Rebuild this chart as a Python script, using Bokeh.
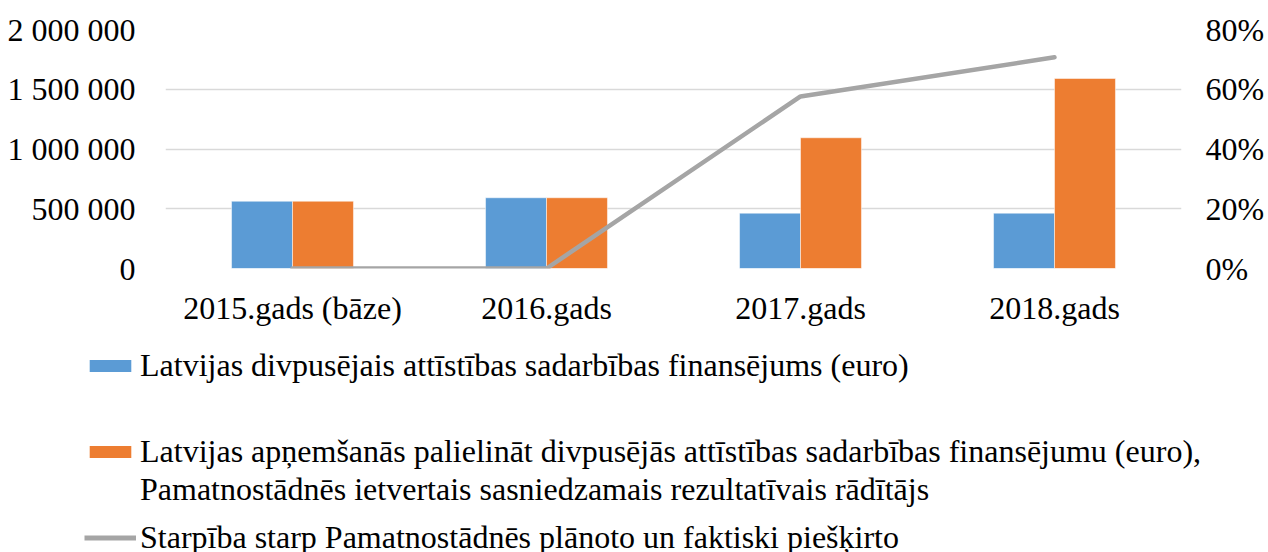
from bokeh.plotting import figure
from bokeh.models import (FactorRange, Range1d, LinearAxis, FixedTicker, Legend, LegendItem,
                          ColumnDataSource)
from bokeh.layouts import column
from bokeh.transform import dodge
from bokeh.embed import file_html
from bokeh.resources import INLINE

categories = ["2015.gads (bāze)", "2016.gads", "2017.gads", "2018.gads"]
actual_funding = [563000, 592000, 463000, 463000]
committed_funding = [563000, 592000, 1094000, 1590000]
gap_share = [0.0, 0.0, 0.576, 0.707]

left_ticks = [0, 500000, 1000000, 1500000, 2000000]
left_tick_labels = ["0", "500 000", "1 000 000", "1 500 000", "2 000 000"]
right_ticks = [0, 0.2, 0.4, 0.6, 0.8]
right_tick_labels = ["0%", "20%", "40%", "60%", "80%"]

label_blue = "Latvijas divpusējais attīstības sadarbības finansējums (euro)"
label_orange_1 = "Latvijas apņemšanās palielināt divpusējās attīstības sadarbības finansējumu (euro),"
label_orange_2 = "Pamatnostādnēs ietvertais sasniedzamais rezultatīvais rādītājs"
label_gray = "Starpība starp Pamatnostādnēs plānoto un faktiski piešķirto"

FONT = "Liberation Serif"
FS = "32px"
BLUE = "#5B9BD5"
ORANGE = "#ED7D31"
GRAY = "#A5A5A5"
W = 1268

src = ColumnDataSource(dict(cat=categories, a=actual_funding, c=committed_funding, g=gap_share))

p = figure(x_range=FactorRange(*categories, range_padding=0), y_range=Range1d(0, 2000000),
           width=W, height=330, output_backend="svg", toolbar_location=None,
           min_border_left=165, min_border_right=87, min_border_top=29, min_border_bottom=62)
p.extra_y_ranges = {"pct": Range1d(0, 0.8)}
p.outline_line_color = None

r1 = p.vbar(x=dodge("cat", -0.12, range=p.x_range), top="a", width=0.24, source=src,
            fill_color=BLUE, line_color="white", line_width=0.5)
r2 = p.vbar(x=dodge("cat", 0.12, range=p.x_range), top="c", width=0.24, source=src,
            fill_color=ORANGE, line_color="white", line_width=0.5)
r3 = p.line(x="cat", y="g", source=src, y_range_name="pct",
            line_color=GRAY, line_width=4.5, line_join="round", line_cap="round")

p.xgrid.grid_line_color = None
p.ygrid.grid_line_color = "#D9D9D9"
p.ygrid.grid_line_width = 1.5
p.yaxis.ticker = FixedTicker(ticks=left_ticks)
p.yaxis.major_label_overrides = dict(zip(left_ticks, left_tick_labels))

right = LinearAxis(y_range_name="pct", ticker=FixedTicker(ticks=right_ticks))
right.major_label_overrides = dict(zip(right_ticks, right_tick_labels))
p.add_layout(right, "right")

for ax in [p.xaxis[0], p.yaxis[0], right]:
    ax.axis_line_color = None
    ax.major_tick_line_color = None
    ax.minor_tick_line_color = None
    ax.major_tick_in = 0
    ax.major_tick_out = 0
    ax.major_label_text_font = FONT
    ax.major_label_text_font_size = FS
    ax.major_label_text_color = "black"
p.yaxis[0].major_label_standoff = 30
right.major_label_standoff = 24
p.xaxis[0].major_label_standoff = 21

# legend panel below the chart
q = figure(width=W, height=222, output_backend="svg", toolbar_location=None,
           x_range=Range1d(0, 1), y_range=Range1d(0, 1),
           x_axis_location=None, y_axis_location=None,
           min_border_left=0, min_border_right=0, min_border_top=0, min_border_bottom=0)
q.outline_line_color = None
q.grid.grid_line_color = None
try:
    q.frame_align = False
    p.frame_align = False
except Exception:
    pass
l1 = q.vbar(x=[-10], top=[-10], width=0.5, fill_color=BLUE, line_color=None)
l2 = q.vbar(x=[-10], top=[-10], width=0.5, fill_color=ORANGE, line_color=None)
l2b = q.vbar(x=[-10], top=[-10], width=0.5, fill_alpha=0, line_color=None)
l3 = q.line(x=[-10, -9], y=[-10, -10], line_color=GRAY, line_width=5)

def mk_legend(label, rend, vy):
    lg = Legend(items=[LegendItem(label=label, renderers=[rend])], location=(84, vy),
                orientation="vertical", padding=0, margin=0, spacing=0,
                border_line_color=None, background_fill_alpha=0,
                glyph_width=52, glyph_height=15, label_standoff=4,
                label_text_font=FONT, label_text_font_size=FS, label_text_color="black",
                label_height=15)
    q.add_layout(lg, "center")

mk_legend(label_blue, l1, 168)
mk_legend(label_orange_1, l2, 82)
mk_legend(label_orange_2, l2b, 44)
mk_legend(label_gray, l3, -4)

open("out.html", "w").write(file_html(column(p, q, spacing=0), INLINE))
